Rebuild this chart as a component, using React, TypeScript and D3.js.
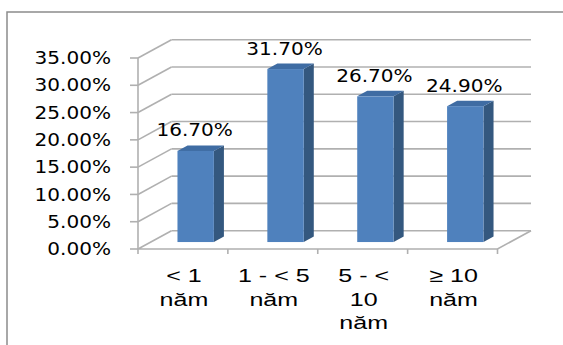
import React from "react";
import * as d3 from "d3";

const categories: string[][] = [["< 1", "năm"], ["1 - < 5", "năm"], ["5 - <", "10", "năm"], ["≥ 10", "năm"]];
const values: number[] = [0.167, 0.317, 0.267, 0.249];
const yTicks: number[] = [0, 0.05, 0.1, 0.15, 0.2, 0.25, 0.3, 0.35];

const W = 563, H = 345;
const X0 = 138, X1 = 497.5;
const Y0 = 249, Y1 = 58;
const DX = 33.5, DY = -18.3;
const FB = 0.38, BB = 0.68;

export default function App() {
  const y = d3.scaleLinear().domain([0, 0.35]).range([Y0, Y1]);
  const x = d3.scaleBand().domain(d3.range(values.length).map(String)).range([X0, X1]).paddingInner(0).paddingOuter(0);
  const fmt = d3.format(".2%");
  const bw = x.bandwidth() * 0.405;
  const numFont = "'DejaVu Sans', Verdana, sans-serif";
  const catFont = "'Liberation Sans', Arial, sans-serif";
  const grid = "#b0b0b0";

  const bars = values.map((v, i) => {
    const cx = (x(String(i)) as number) + x.bandwidth() / 2 + DX * FB;
    const xl = cx - bw / 2, xr = cx + bw / 2;
    const yb = y(0) + DY * FB;
    const yt = y(v) + DY * FB;
    const ddx = DX * (BB - FB), ddy = DY * (BB - FB);
    return { v, cx, xl, xr, yb, yt, ddx, ddy };
  });

  return (
    <svg width={W} height={H} style={{ position: "absolute", left: 0, top: 0 }}>
      <rect x={0} y={0} width={W} height={H} fill="#fff" />
      <rect x={7} y={12} width={700} height={500} fill="none" stroke="#8c8c8c" strokeWidth={1.5} />
      {/* gridlines: side wall diagonals + back wall */}
      {yTicks.map((t, i) => (
        <g key={i}>
          {i > 0 && <line x1={X0} y1={y(t)} x2={X0 + DX} y2={y(t) + DY} stroke={grid} strokeWidth={1.6} />}
          <line x1={X0 + DX} y1={y(t) + DY} x2={X1 + DX} y2={y(t) + DY} stroke={grid} strokeWidth={1.6} />
        </g>
      ))}
      {/* floor */}
      <polyline points={`${X0 + DX},${Y0 + DY} ${X0},${Y0} ${X1},${Y0} ${X1 + DX},${Y0 + DY}`} fill="none" stroke={grid} strokeWidth={1.6} />
      {/* front vertical axis */}
      <line x1={X0} y1={Y1} x2={X0} y2={Y0} stroke={grid} strokeWidth={1.6} />
      {yTicks.map((t, i) => (
        <line key={i} x1={X0 - 8} y1={y(t)} x2={X0} y2={y(t)} stroke={grid} strokeWidth={1.6} />
      ))}
      {d3.range(values.length + 1).map((i) => {
        const xx = i < values.length ? (x(String(i)) as number) : X1;
        return <line key={i} x1={xx} y1={Y0} x2={xx} y2={Y0 + 5} stroke={grid} strokeWidth={1.6} />;
      })}
      {/* y labels */}
      {yTicks.map((t, i) => (
        <text key={i} transform={`translate(111,${y(t)}) scale(1.18,1)`} dy="0.36em" textAnchor="end"
          fontFamily={numFont} fontSize={17} fill="#000">{fmt(t)}</text>
      ))}
      {/* bars */}
      {bars.map((b, i) => (
        <g key={i}>
          <polygon points={`${b.xr},${b.yb} ${b.xr + b.ddx},${b.yb + b.ddy} ${b.xr + b.ddx},${b.yt + b.ddy} ${b.xr},${b.yt}`} fill="#34587f" />
          <polygon points={`${b.xl},${b.yt} ${b.xl + b.ddx},${b.yt + b.ddy} ${b.xr + b.ddx},${b.yt + b.ddy} ${b.xr},${b.yt}`} fill="#3f6ca3" />
          <rect x={b.xl} y={b.yt} width={b.xr - b.xl} height={b.yb - b.yt} fill="#4f81bd" />
          <text transform={`translate(${b.cx - 1},${b.yt + b.ddy - 9}) scale(1.18,1)`} textAnchor="middle"
            fontFamily={numFont} fontSize={17} fill="#000">{fmt(b.v)}</text>
        </g>
      ))}
      {/* category labels */}
      {categories.map((lines, i) => {
        const cx = (x(String(i)) as number) + x.bandwidth() / 2 + 1;
        return lines.map((l, j) => (
          <text key={`${i}-${j}`} transform={`translate(${cx},${282 + j * 23.5}) scale(1.32,1)`} textAnchor="middle"
            fontFamily={catFont} fontSize={19} fill="#000">{l}</text>
        ));
      })}
    </svg>
  );
}
